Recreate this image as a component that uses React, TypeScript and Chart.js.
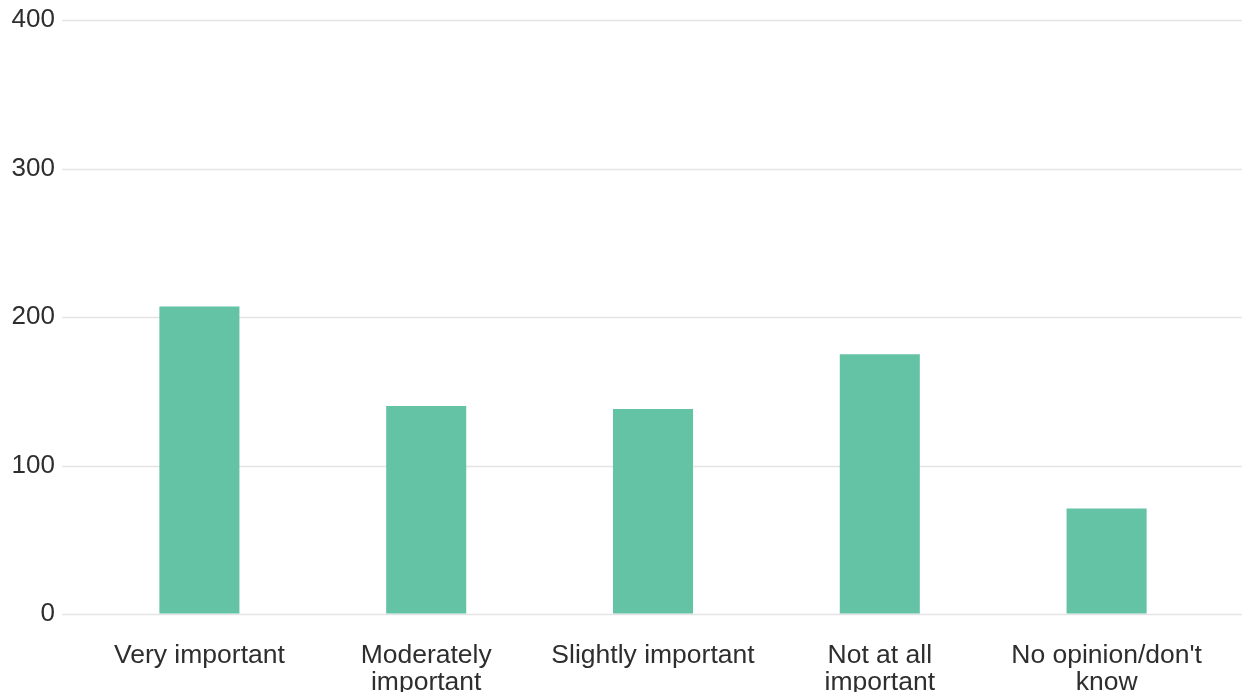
import React, { useEffect, useRef } from "react";
import { Chart, registerables } from "chart.js";

Chart.register(...registerables);

const categories: (string | string[])[] = [
  "Very important",
  ["Moderately", "important"],
  "Slightly important",
  ["Not at all", "important"],
  ["No opinion/don't", "know"],
];
const counts = [207, 140, 138, 175, 71];
const yTicks = [0, 100, 200, 300, 400];

const FONT = "'Liberation Sans', Arial, sans-serif";

const fullGrid = {
  id: "fullGrid",
  beforeDatasetsDraw(chart: any) {
    const y = chart.scales.y;
    const ctx = chart.ctx;
    const left = chart.chartArea.left - 24;
    const right = chart.width;
    ctx.save();
    ctx.strokeStyle = "#e4e4e4";
    ctx.lineWidth = 1.6;
    yTicks.forEach((v) => {
      const py = Math.round(y.getPixelForValue(v)) + 0.5;
      ctx.beginPath();
      ctx.moveTo(left, py);
      ctx.lineTo(right, py);
      ctx.stroke();
    });
    ctx.restore();
  },
};

export default function App() {
  const ref = useRef<HTMLCanvasElement>(null);
  useEffect(() => {
    if (!ref.current) return;
    const chart = new Chart(ref.current, {
      type: "bar",
      data: {
        labels: categories,
        datasets: [
          {
            data: counts,
            backgroundColor: "#64c3a5",
            borderWidth: 0,
            barPercentage: 0.353,
            categoryPercentage: 1,
          },
        ],
      },
      options: {
        animation: false,
        responsive: false,
        maintainAspectRatio: false,
        layout: { padding: { top: 18, left: 11, right: 22, bottom: 6 } },
        plugins: { legend: { display: false }, tooltip: { enabled: false } },
        scales: {
          x: {
            grid: { display: false, drawTicks: false },
            border: { display: false },
            afterFit: (axis: any) => {
              axis.height = 78;
            },
            ticks: {
              color: "#2e2e2e",
              padding: 28,
              maxRotation: 0,
              autoSkip: false,
              font: { size: 26.5, family: FONT, lineHeight: 1.03 },
            },
          },
          y: {
            min: 0,
            max: 400,
            grid: { display: true, color: "rgba(0,0,0,0)", drawTicks: true, tickLength: 24 },
            border: { display: false },
            afterBuildTicks: (axis: any) => {
              axis.ticks = yTicks.map((v) => ({ value: v }));
            },
            afterFit: (axis: any) => {
              axis.width = 75;
            },
            ticks: {
              color: "#2e2e2e",
              padding: 7,
              font: { size: 26, family: FONT, lineHeight: 1 },
            },
          },
        },
      },
      plugins: [fullGrid],
    });
    return () => chart.destroy();
  }, []);
  return (
    <div style={{ position: "fixed", left: 0, top: 0, width: 1242, height: 698, background: "#fff" }}>
      <canvas ref={ref} width={1242} height={698} style={{ width: 1242, height: 698 }} />
    </div>
  );
}
